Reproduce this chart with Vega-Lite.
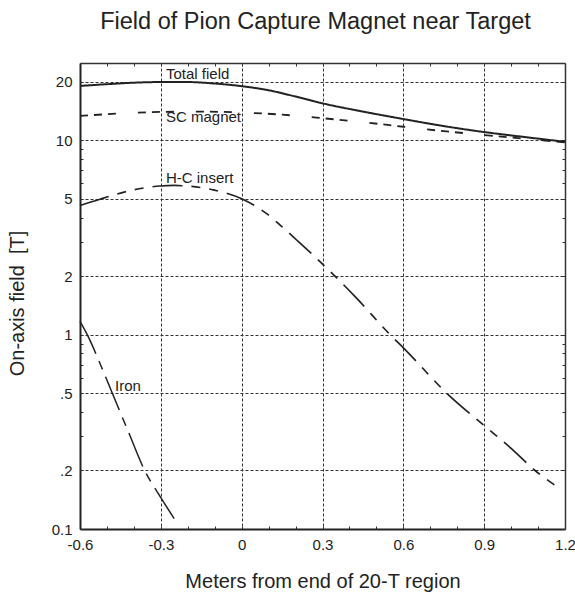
{
  "$schema": "https://vega.github.io/schema/vega-lite/v6.json",
  "width": 485,
  "height": 466,
  "autosize": {"type": "none"},
  "padding": {"left": 80, "top": 63, "right": 10, "bottom": 63},
  "background": "white",
  "title": {
    "text": "Field of Pion Capture Magnet near Target",
    "font": "Liberation Sans",
    "fontSize": 23.5,
    "fontWeight": "normal",
    "color": "#222",
    "anchor": "middle",
    "frame": "group",
    "dx": -7,
    "baseline": "alphabetic",
    "offset": 10
  },
  "config": {
    "view": {"stroke": null},
    "axis": {
      "labelFont": "Liberation Sans",
      "titleFont": "Liberation Sans",
      "labelColor": "#222",
      "titleColor": "#222",
      "titleFontWeight": "normal"
    }
  },
  "datasets": {
    "curves": [
      {"series": "Total field", "x": -0.6, "y": 19.05},
      {"series": "Total field", "x": -0.5, "y": 19.45},
      {"series": "Total field", "x": -0.4, "y": 19.8},
      {"series": "Total field", "x": -0.3, "y": 19.95},
      {"series": "Total field", "x": -0.2, "y": 19.95},
      {"series": "Total field", "x": -0.1, "y": 19.6},
      {"series": "Total field", "x": 0.0, "y": 19.0},
      {"series": "Total field", "x": 0.1, "y": 18.1},
      {"series": "Total field", "x": 0.2, "y": 16.8},
      {"series": "Total field", "x": 0.3, "y": 15.5},
      {"series": "Total field", "x": 0.45, "y": 14.06},
      {"series": "Total field", "x": 0.6, "y": 12.87},
      {"series": "Total field", "x": 0.75, "y": 11.84},
      {"series": "Total field", "x": 0.9, "y": 11.03},
      {"series": "Total field", "x": 1.05, "y": 10.4},
      {"series": "Total field", "x": 1.2, "y": 9.83},
      {"series": "SC magnet", "x": -0.6, "y": 13.35},
      {"series": "SC magnet", "x": -0.45, "y": 13.75},
      {"series": "SC magnet", "x": -0.3, "y": 14.0},
      {"series": "SC magnet", "x": -0.15, "y": 14.05},
      {"series": "SC magnet", "x": 0.0, "y": 13.9},
      {"series": "SC magnet", "x": 0.15, "y": 13.55},
      {"series": "SC magnet", "x": 0.3, "y": 13.0},
      {"series": "SC magnet", "x": 0.45, "y": 12.4},
      {"series": "SC magnet", "x": 0.6, "y": 11.75},
      {"series": "SC magnet", "x": 0.75, "y": 11.15},
      {"series": "SC magnet", "x": 0.9, "y": 10.65},
      {"series": "SC magnet", "x": 1.05, "y": 10.2},
      {"series": "SC magnet", "x": 1.2, "y": 9.75},
      {"series": "H-C insert", "x": -0.6, "y": 4.62},
      {"series": "H-C insert", "x": -0.526, "y": 4.98},
      {"series": "H-C insert", "x": -0.45, "y": 5.35},
      {"series": "H-C insert", "x": -0.402, "y": 5.56},
      {"series": "H-C insert", "x": -0.303, "y": 5.82},
      {"series": "H-C insert", "x": -0.25, "y": 5.86},
      {"series": "H-C insert", "x": -0.204, "y": 5.82},
      {"series": "H-C insert", "x": -0.105, "y": 5.56},
      {"series": "H-C insert", "x": 0.0, "y": 5.0},
      {"series": "H-C insert", "x": 0.09, "y": 4.22},
      {"series": "H-C insert", "x": 0.149, "y": 3.6},
      {"series": "H-C insert", "x": 0.204, "y": 3.07},
      {"series": "H-C insert", "x": 0.316, "y": 2.2},
      {"series": "H-C insert", "x": 0.421, "y": 1.57},
      {"series": "H-C insert", "x": 0.551, "y": 1.0},
      {"series": "H-C insert", "x": 0.603, "y": 0.848},
      {"series": "H-C insert", "x": 0.761, "y": 0.5},
      {"series": "H-C insert", "x": 0.903, "y": 0.338},
      {"series": "H-C insert", "x": 1.0, "y": 0.26},
      {"series": "H-C insert", "x": 1.089, "y": 0.2},
      {"series": "H-C insert", "x": 1.182, "y": 0.161},
      {"series": "Iron", "x": -0.6, "y": 1.17},
      {"series": "Iron", "x": -0.57, "y": 0.98},
      {"series": "Iron", "x": -0.52, "y": 0.68},
      {"series": "Iron", "x": -0.48, "y": 0.5},
      {"series": "Iron", "x": -0.42, "y": 0.315},
      {"series": "Iron", "x": -0.36, "y": 0.2},
      {"series": "Iron", "x": -0.3, "y": 0.145},
      {"series": "Iron", "x": -0.2485, "y": 0.112}
    ],
    "labels": [
      {"label": "Total field", "x": -0.281, "y": 20.8},
      {"label": "SC magnet", "x": -0.281, "y": 12.46},
      {"label": "H-C insert", "x": -0.281, "y": 6.05},
      {"label": "Iron", "x": -0.47, "y": 0.512}
    ]
  },
  "layer": [
    {
      "data": {"name": "curves"},
      "mark": {"type": "line", "interpolate": "monotone", "color": "#222"},
      "encoding": {
        "x": {
          "field": "x",
          "type": "quantitative",
          "scale": {"domain": [-0.6, 1.2], "nice": false, "zero": false},
          "axis": {
            "orient": "bottom",
            "values": [-0.6, -0.5, -0.4, -0.3, -0.2, -0.1, 0, 0.1, 0.2, 0.3, 0.4, 0.5, 0.6, 0.7, 0.8, 0.9, 1.0, 1.1, 1.2],
            "labelExpr": "indexof([-0.6, -0.3, 0, 0.3, 0.6, 0.9, 1.2], datum.value) >= 0 ? toString(datum.value) : ''",
            "labelFlush": false,
            "labelOverlap": false,
            "labelBound": false,
            "labelFontSize": 15,
            "labelPadding": 11,
            "grid": true,
            "gridDash": [3, 2],
            "gridColor": "#333",
            "gridWidth": 1,
            "gridOpacity": {"condition": {"test": "indexof([-0.3, 0, 0.3, 0.6, 0.9], datum.value) >= 0", "value": 1}, "value": 0},
            "tickSize": -3,
            "tickColor": "#333",
            "tickWidth": 1,
            "domainColor": "#222",
            "domainWidth": 2,
            "title": "Meters from end of 20-T region",
            "titleFontSize": 20,
            "titlePadding": 19
          }
        },
        "y": {
          "field": "y",
          "type": "quantitative",
          "scale": {"type": "log", "domain": [0.1, 25], "nice": false},
          "axis": {
            "orient": "left",
            "values": [0.1, 0.2, 0.3, 0.4, 0.5, 0.6, 0.7, 0.8, 0.9, 1, 2, 3, 4, 5, 6, 7, 8, 9, 10, 20],
            "labelExpr": "datum.value == 0.1 ? '0.1' : datum.value == 0.2 ? '.2' : datum.value == 0.5 ? '.5' : indexof([1, 2, 5, 10, 20], datum.value) >= 0 ? toString(datum.value) : ''",
            "labelOverlap": false,
            "labelBound": false,
            "labelFlush": false,
            "labelFontSize": 15,
            "labelPadding": 11,
            "grid": true,
            "gridDash": [3, 2],
            "gridColor": "#333",
            "gridWidth": 1,
            "gridOpacity": {"condition": {"test": "indexof([0.2, 0.5, 1, 2, 5, 10, 20], datum.value) >= 0", "value": 1}, "value": 0},
            "tickSize": -3,
            "tickColor": "#333",
            "tickWidth": 1,
            "domainColor": "#222",
            "domainWidth": 2,
            "title": "On-axis field\u00a0\u00a0[T]",
            "titleFontSize": 20,
            "titlePadding": 24,
            "titleY": 240
          }
        },
        "strokeDash": {
          "field": "series",
          "type": "nominal",
          "scale": {
            "domain": ["Total field", "SC magnet", "H-C insert", "Iron"],
            "range": [[1, 0], [8, 6, 8, 6, 8, 22], [30, 9, 9, 9, 9, 9], [36, 8, 9, 8]]
          },
          "legend": null
        },
        "strokeWidth": {
          "field": "series",
          "type": "nominal",
          "scale": {
            "domain": ["Total field", "SC magnet", "H-C insert", "Iron"],
            "range": [2, 1.5, 1.5, 1.5]
          },
          "legend": null
        }
      }
    },
    {
      "data": {"name": "labels"},
      "mark": {"type": "text", "align": "left", "baseline": "alphabetic", "font": "Liberation Sans", "fontSize": 15, "color": "#222"},
      "encoding": {
        "x": {
          "field": "x",
          "type": "quantitative",
          "scale": {"domain": [-0.6, 1.2], "nice": false, "zero": false},
          "axis": {
            "orient": "top",
            "values": [-0.6, -0.5, -0.4, -0.3, -0.2, -0.1, 0, 0.1, 0.2, 0.3, 0.4, 0.5, 0.6, 0.7, 0.8, 0.9, 1.0, 1.1, 1.2],
            "labels": false,
            "grid": false,
            "tickSize": -3,
            "tickColor": "#333",
            "tickWidth": 1,
            "domainColor": "#333",
            "domainWidth": 1.5,
            "title": null
          }
        },
        "y": {
          "field": "y",
          "type": "quantitative",
          "scale": {"type": "log", "domain": [0.1, 25], "nice": false},
          "axis": {
            "orient": "right",
            "values": [0.1, 0.2, 0.3, 0.4, 0.5, 0.6, 0.7, 0.8, 0.9, 1, 2, 3, 4, 5, 6, 7, 8, 9, 10, 20],
            "labels": false,
            "grid": false,
            "tickSize": -3,
            "tickColor": "#333",
            "tickWidth": 1,
            "domainColor": "#333",
            "domainWidth": 1.5,
            "title": null
          }
        },
        "text": {"field": "label", "type": "nominal"}
      }
    }
  ],
  "resolve": {"axis": {"x": "independent", "y": "independent"}}
}
